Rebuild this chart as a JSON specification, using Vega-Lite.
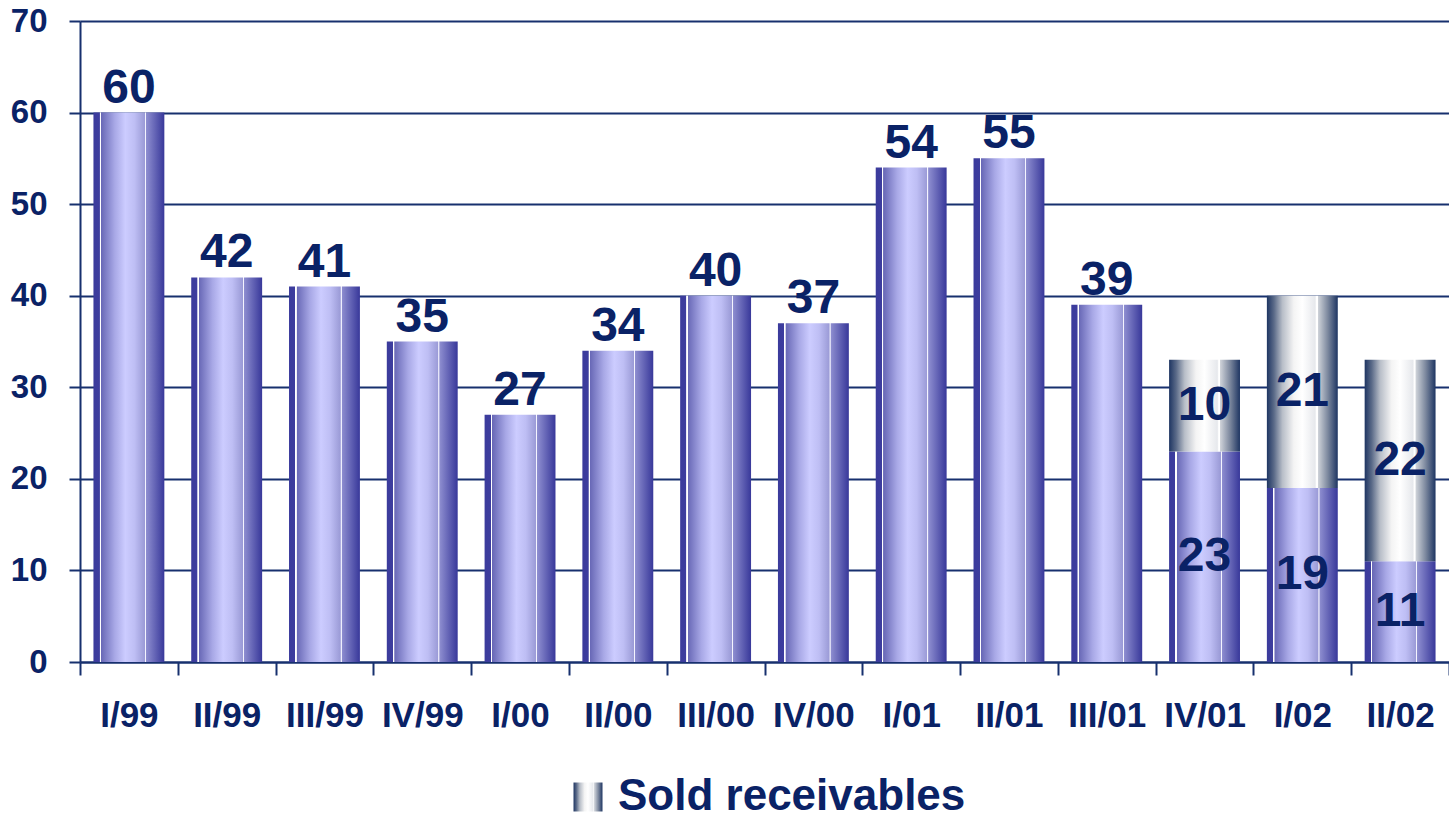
{
  "$schema": "https://vega.github.io/schema/vega-lite/v6.json",
  "width": 1369,
  "height": 641,
  "autosize": {"type": "none"},
  "padding": {"left": 80, "top": 21, "right": 0, "bottom": 160},
  "background": "#ffffff",
  "config": {
    "view": {"stroke": null},
    "font": "Liberation Sans",
    "axis": {
      "labelFont": "Liberation Sans",
      "labelFontWeight": "bold",
      "labelColor": "#0a2266",
      "domainColor": "#17306e",
      "tickColor": "#17306e",
      "gridColor": "#17306e",
      "domainWidth": 2,
      "tickWidth": 2,
      "gridWidth": 2,
      "gridOpacity": 1,
      "title": null
    }
  },
  "data": {
    "values": [
      {"q": "I/99", "series": "Receivables", "value": 60},
      {"q": "II/99", "series": "Receivables", "value": 42},
      {"q": "III/99", "series": "Receivables", "value": 41},
      {"q": "IV/99", "series": "Receivables", "value": 35},
      {"q": "I/00", "series": "Receivables", "value": 27},
      {"q": "II/00", "series": "Receivables", "value": 34},
      {"q": "III/00", "series": "Receivables", "value": 40},
      {"q": "IV/00", "series": "Receivables", "value": 37},
      {"q": "I/01", "series": "Receivables", "value": 54},
      {"q": "II/01", "series": "Receivables", "value": 55},
      {"q": "III/01", "series": "Receivables", "value": 39},
      {"q": "IV/01", "series": "Receivables", "value": 23},
      {"q": "I/02", "series": "Receivables", "value": 19},
      {"q": "II/02", "series": "Receivables", "value": 11},
      {"q": "IV/01", "series": "Sold receivables", "value": 10},
      {"q": "I/02", "series": "Sold receivables", "value": 21},
      {"q": "II/02", "series": "Sold receivables", "value": 22}
    ]
  },
  "transform": [
    {"joinaggregate": [{"op": "count", "as": "n"}], "groupby": ["q"]},
    {"stack": "value", "groupby": ["q"], "sort": [{"field": "series", "order": "ascending"}], "as": ["v0", "v1"]},
    {"calculate": "(datum.v0 + datum.v1) / 2", "as": "mid"}
  ],
  "encoding": {
    "x": {
      "field": "q",
      "type": "nominal",
      "sort": null,
      "scale": {"paddingInner": 0, "paddingOuter": 0},
      "axis": {
        "labelAngle": 0,
        "labelFontSize": 35,
        "labelPadding": 23,
        "tickSize": 13,
        "tickBand": "extent",
        "domain": true,
        "grid": false
      }
    }
  },
  "layer": [
    {
      "transform": [{"filter": "datum.series == 'Receivables'"}],
      "mark": {
        "type": "bar",
        "width": {"band": 0.725},
        "color": {"gradient": "linear", "x1": 0, "y1": 0, "x2": 1, "y2": 0, "stops": [
          {"offset": 0, "color": "#3b3b9c"},
          {"offset": 0.085, "color": "#3d3d9e"},
          {"offset": 0.09, "color": "#ffffff"},
          {"offset": 0.105, "color": "#ffffff"},
          {"offset": 0.11, "color": "#6868b6"},
          {"offset": 0.3, "color": "#a8a8e6"},
          {"offset": 0.45, "color": "#ccccff"},
          {"offset": 0.58, "color": "#bebef4"},
          {"offset": 0.725, "color": "#9a9ad6"},
          {"offset": 0.73, "color": "#f4f4ff"},
          {"offset": 0.74, "color": "#f4f4ff"},
          {"offset": 0.745, "color": "#8e8ed0"},
          {"offset": 1, "color": "#38389a"}
        ]}
      },
      "encoding": {
        "y": {
          "field": "v0",
          "type": "quantitative",
          "scale": {"domain": [0, 70], "nice": false},
          "axis": {
            "values": [0, 10, 20, 30, 40, 50, 60, 70],
            "labelFontSize": 33,
            "labelPadding": 22,
            "tickSize": 11,
            "grid": true,
            "domain": true
          }
        },
        "y2": {"field": "v1"}
      }
    },
    {
      "transform": [{"filter": "datum.series == 'Sold receivables'"}],
      "mark": {
        "type": "bar",
        "width": {"band": 0.725},
        "color": {"gradient": "linear", "x1": 0, "y1": 0, "x2": 1, "y2": 0, "stops": [
          {"offset": 0, "color": "#1e3562"},
          {"offset": 0.1, "color": "#5a6a88"},
          {"offset": 0.22, "color": "#b8bec8"},
          {"offset": 0.38, "color": "#f4f4f4"},
          {"offset": 0.5, "color": "#ffffff"},
          {"offset": 0.68, "color": "#e6e8ec"},
          {"offset": 0.7, "color": "#ffffff"},
          {"offset": 0.715, "color": "#ffffff"},
          {"offset": 0.72, "color": "#d0d4da"},
          {"offset": 0.86, "color": "#7c889e"},
          {"offset": 1, "color": "#1e3562"}
        ]}
      },
      "encoding": {
        "y": {"field": "v0", "type": "quantitative"},
        "y2": {"field": "v1"},
        "opacity": {
          "field": "series",
          "type": "nominal",
          "scale": {"range": [1, 1]},
          "legend": {
            "orient": "none",
            "legendX": 486,
            "legendY": 754,
            "title": null,
            "padding": 0,
            "symbolType": "square",
            "symbolSize": 840,
            "symbolStrokeWidth": 0,
            "symbolOpacity": 1,
            "labelFont": "Liberation Sans",
            "labelFontWeight": "bold",
            "labelFontSize": 44,
            "labelColor": "#0a2266",
            "labelOffset": 8,
            "labelLimit": 600,
            "encode": {
              "symbols": {
                "update": {
                  "fill": {"value": {"gradient": "linear", "x1": 0, "y1": 0, "x2": 1, "y2": 0, "stops": [
                    {"offset": 0, "color": "#1e3562"},
                    {"offset": 0.15, "color": "#6a7890"},
                    {"offset": 0.3, "color": "#ffffff"},
                    {"offset": 0.4, "color": "#ffffff"},
                    {"offset": 0.5, "color": "#1e3562"},
                    {"offset": 0.6, "color": "#6a7890"},
                    {"offset": 0.75, "color": "#ffffff"},
                    {"offset": 0.85, "color": "#c0c6d0"},
                    {"offset": 1, "color": "#1e3562"}
                  ]}},
                  "stroke": {"value": "transparent"},
                  "opacity": {"value": 1}
                }
              }
            }
          }
        }
      }
    },
    {
      "transform": [{"filter": "datum.n == 1"}],
      "mark": {
        "type": "text",
        "baseline": "alphabetic",
        "dy": -10,
        "fontSize": 48,
        "fontWeight": "bold",
        "font": "Liberation Sans",
        "color": "#0a2266"
      },
      "encoding": {
        "y": {"field": "v1", "type": "quantitative"},
        "text": {"field": "value", "type": "quantitative"}
      }
    },
    {
      "transform": [{"filter": "datum.n == 2"}],
      "mark": {
        "type": "text",
        "baseline": "middle",
        "fontSize": 48,
        "fontWeight": "bold",
        "font": "Liberation Sans",
        "color": "#0a2266"
      },
      "encoding": {
        "y": {"field": "mid", "type": "quantitative"},
        "text": {"field": "value", "type": "quantitative"}
      }
    }
  ]
}
